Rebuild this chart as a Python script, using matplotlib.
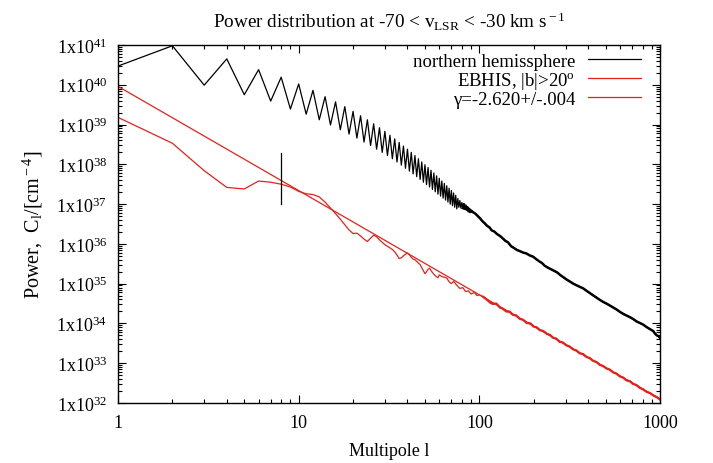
import numpy as np
import matplotlib
matplotlib.use("Agg")
import matplotlib.pyplot as plt
from matplotlib.ticker import FixedLocator, FuncFormatter, LogLocator, NullFormatter

plt.rcParams['font.family'] = ['Liberation Serif', 'DejaVu Serif']
plt.rcParams['mathtext.fontset'] = 'custom'
plt.rcParams['mathtext.rm'] = 'Liberation Serif'
plt.rcParams['mathtext.it'] = 'Liberation Serif:italic'

# ---- data (log10 of power) ----
# northern hemisphere: low multipoles, one value per l
north_l = list(range(1, 91)) + [
    92, 95, 98, 101, 104, 107, 110, 114, 117, 121, 125, 130, 134, 139, 144, 150,
    155, 161, 167, 175, 182, 190, 198, 206, 213, 222, 230, 240, 250, 260, 270, 280,
    292, 305, 318, 331, 345, 360, 376, 392, 410, 428, 445, 465, 485, 505, 528, 551,
    575, 600, 626, 652, 680, 711, 742, 775, 807, 842, 878, 916, 940, 960, 980, 1000]
north_log = [
    40.47, 40.98, 39.99, 40.65, 39.75, 40.38, 39.59, 40.19, 39.39, 40.02,
    39.26, 39.86, 39.12, 39.70, 38.99, 39.57, 38.87, 39.45, 38.76, 39.33,
    38.66, 39.22, 38.56, 39.12, 38.47, 39.02, 38.38, 38.92, 38.30, 38.83,
    38.22, 38.73, 38.14, 38.64, 38.06, 38.55, 37.98, 38.46, 37.90, 38.38,
    37.83, 38.30, 37.76, 38.22, 37.69, 38.14, 37.62, 38.06, 37.55, 37.99,
    37.49, 37.92, 37.43, 37.85, 37.37, 37.78, 37.31, 37.71, 37.25, 37.65,
    37.20, 37.58, 37.15, 37.52, 37.10, 37.46, 37.05, 37.40, 37.00, 37.34,
    36.96, 37.28, 36.92, 37.22, 36.88, 37.14, 36.92, 37.09, 36.90, 37.04,
    36.90, 37.00, 36.88, 36.96, 36.86, 36.92, 36.82, 36.88, 36.80, 36.84,
    36.80, 36.76, 36.70, 36.64, 36.57, 36.52, 36.46, 36.41, 36.34, 36.31,
    36.25, 36.20, 36.15, 36.08, 36.04, 35.94, 35.90, 35.85, 35.82, 35.78,
    35.76, 35.71, 35.68, 35.62, 35.57, 35.52, 35.45, 35.40, 35.36, 35.32,
    35.28, 35.22, 35.16, 35.10, 35.05, 35.00, 34.96, 34.92, 34.88, 34.82,
    34.76, 34.70, 34.65, 34.59, 34.54, 34.50, 34.45, 34.40, 34.35, 34.29,
    34.24, 34.20, 34.16, 34.11, 34.05, 34.01, 33.97, 33.91, 33.86, 33.81,
    33.74, 33.70, 33.68, 33.64]

# EBHIS |b|>20
ebhis_l = list(range(1, 61)) + [
    62, 64, 66, 68, 70, 72, 75, 78, 81, 84, 87, 90, 94, 97, 100, 105, 110, 115, 119,
    124, 130, 135, 141, 147, 153, 160, 167, 175, 183, 192, 200, 208, 216, 226, 236,
    246, 256, 266, 278, 290, 303, 316, 330, 344, 359, 375, 391, 408, 426, 445, 464,
    484, 505, 527, 550, 574, 599, 625, 652, 680, 710, 741, 774, 808, 843, 880, 918,
    958, 1000]
ebhis_log = [
    39.18, 38.53, 37.84, 37.42, 37.38, 37.58, 37.55, 37.50, 37.43, 37.32,
    37.26, 37.24, 37.18, 37.05, 36.90, 36.76, 36.62, 36.48, 36.35, 36.26,
    36.27, 36.20, 36.12, 36.06, 36.14, 36.22, 36.18, 36.10, 36.04, 35.98,
    35.94, 35.90, 35.86, 35.80, 35.72, 35.63, 35.65, 35.70, 35.74, 35.77,
    35.73, 35.66, 35.62, 35.60, 35.56, 35.52, 35.48, 35.40, 35.32, 35.25,
    35.30, 35.36, 35.39, 35.33, 35.28, 35.24, 35.20, 35.17, 35.15, 35.22,
    35.18, 35.16, 35.14, 35.05, 35.00, 35.06, 34.96, 34.88, 34.90, 34.80,
    34.82, 34.74, 34.78, 34.70, 34.72, 34.67, 34.60, 34.52, 34.49, 34.50,
    34.40, 34.37, 34.30, 34.30, 34.22, 34.20, 34.12, 34.09, 34.01, 34.00,
    33.92, 33.90, 33.83, 33.81, 33.74, 33.71, 33.64, 33.62, 33.54, 33.52,
    33.45, 33.42, 33.35, 33.32, 33.25, 33.23, 33.16, 33.13, 33.06, 33.03,
    32.96, 32.93, 32.87, 32.84, 32.77, 32.74, 32.67, 32.64, 32.57, 32.55,
    32.48, 32.45, 32.38, 32.34, 32.28, 32.25, 32.19, 32.15, 32.09]

# power-law fit, gamma = -2.620 (end points)
fit_l = [1, 1000]
fit_log = [39.96, 32.10]

# vertical marker at l = 8
mark_l = [8, 8]
mark_log = [38.29, 37.0]

north_c = 10 ** np.array(north_log)
ebhis_c = 10 ** np.array(ebhis_log)
fit_c = 10 ** np.array(fit_log)
mark_c = 10 ** np.array(mark_log)

red = '#e8201a'

fig = plt.figure(figsize=(7.13, 4.64), dpi=100)
ax = fig.add_axes([0.1655, 0.1293, 0.7602, 0.7716])

ax.plot(north_l, north_c, color='black', lw=0.9, label='northern hemissphere')
ax.plot(ebhis_l, ebhis_c, color=red, lw=0.9, label=r'EBHIS, |b|>20$^{\rm o}$')
ax.plot(fit_l, fit_c, color=red, lw=0.9, label=u'\u03b3=-2.620+/-.004')
# tails look thick in the original (dense noisy points)
ax.plot(north_l[80:], north_c[80:], color='black', lw=1.8)
ax.plot(ebhis_l[75:], ebhis_c[75:], color=red, lw=1.6)
ax.plot(mark_l, mark_c, color='black', lw=0.9)

ax.set_xscale('log')
ax.set_yscale('log')
ax.set_xlim(1, 1000)
ax.set_ylim(1e32, 1e41)

ax.xaxis.set_major_locator(FixedLocator([1, 10, 100, 1000]))
ax.xaxis.set_major_formatter(FuncFormatter(lambda v, p: '%d' % round(v)))
ax.xaxis.set_minor_locator(LogLocator(base=10, subs=np.arange(2, 10)))
ax.xaxis.set_minor_formatter(NullFormatter())
ax.yaxis.set_major_locator(FixedLocator([10.0 ** k for k in range(32, 42)]))
ax.yaxis.set_major_formatter(FuncFormatter(
    lambda v, p: r'1x10$^{%d}$' % round(np.log10(v))))
ax.yaxis.set_minor_locator(LogLocator(base=10, subs=np.arange(2, 10), numticks=20))
ax.yaxis.set_minor_formatter(NullFormatter())

ax.tick_params(which='both', direction='in', top=True, right=True, width=0.8)
ax.tick_params(which='major', length=6, labelsize=13, pad=8)
ax.tick_params(which='minor', length=3)
for s in ax.spines.values():
    s.set_linewidth(1.0)

ax.set_title(r'Power distribution at -70 < v$_{\rm LSR}$ < -30 km s$^{\rm -1}$',
             fontsize=13.8, pad=13)
ax.set_xlabel('Multipole l', fontsize=13, labelpad=8)
ax.set_ylabel(r'Power,  C$_{\rm l}$/[cm$^{\rm -4}$]', fontsize=14.5, labelpad=8)

ax.legend(loc='upper right', frameon=False, markerfirst=False, fontsize=13.5,
          handlelength=2.8, handletextpad=0.7, labelspacing=0.0,
          borderaxespad=0.2, bbox_to_anchor=(0.985, 1.01))

fig.savefig('out.png', dpi=100)
